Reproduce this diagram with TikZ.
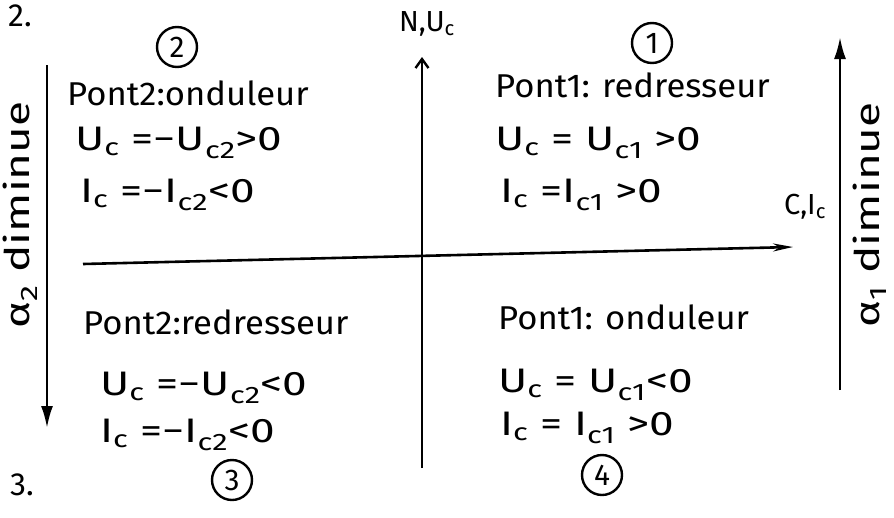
\documentclass[tikz,border=0pt]{standalone}
\usepackage{fontspec}
\usepackage{graphicx}
\setmainfont{Fira Sans}
\usetikzlibrary{arrows.meta}
\newcommand{\sbs}[1]{\textsubscript{#1}}
\newcommand{\widen}[2]{\scalebox{#1}[1]{#2}}
\begin{document}
\begin{tikzpicture}[x=1pt,y=-1pt,
  ttl/.style={font=\fontsize{33}{36}\selectfont, inner sep=0pt, anchor=west},
  eq/.style={font=\fontsize{34}{38}\selectfont, inner sep=0pt, anchor=west},
  num/.style={circle, draw, line width=2.4pt, inner sep=0pt, minimum size=40pt, font=\fontsize{30}{32}\selectfont},
  lbl/.style={font=\fontsize{29}{32}\selectfont, inner sep=0pt},
  side/.style={font=\fontsize{34}{38}\selectfont, inner sep=0pt, rotate=90},
  axis/.style={line width=2.6pt},
 ]
\useasboundingbox (0,0) rectangle (894,517);
% section numbers
\node[lbl, font=\fontsize{32}{34}\selectfont] (s2) at (20,16) {2.};
\node[lbl, font=\fontsize{32}{34}\selectfont] (s3) at (22,485) {3.};
% axes
\coordinate (vb) at (422,468);
\coordinate (vt) at (422,57);
\draw[axis,-{Straight Barb[length=9pt,width=13pt,line width=2.4pt]}] (vb) -- (vt);
\node[lbl] (ylab) at (427,24) {N,U\sbs{c}};
\coordinate (hl) at (83,264);
\coordinate (hr) at (793,247);
\draw[axis,-{Stealth[length=20pt,width=8pt]}] (hl) -- (hr);
\node[lbl] (xlab) at (805,207) {C,I\sbs{c}};
% side arrows
\coordinate (rb) at (840,390);
\coordinate (rt) at (840,37);
\draw[axis,-{Latex[length=22pt,width=12pt]}] (rb) -- (rt);
\node[side] (a1) at (870,215) {\widen{1.35}{α\sbs{1} diminue}};
\coordinate (lt) at (47,65);
\coordinate (lb) at (47,428);
\draw[axis,-{Latex[length=22pt,width=12pt]}] (lt) -- (lb);
\node[side] (a2) at (20,215) {\widen{1.35}{α\sbs{2} diminue}};
% quadrant 2
\node[num] (n2) at (177,47) {2};
\node[ttl] (q2t) at (67,93) {\widen{1.05}{Pont2:onduleur}};
\node[eq] (q2u) at (75,143) {\widen{1.3}{U\sbs{c} =−U\sbs{c2}>0}};
\node[eq] (q2i) at (80,195) {\widen{1.3}{I\sbs{c} =−I\sbs{c2}<0}};
% quadrant 1
\node[num] (n1) at (652,43) {1};
\node[ttl] (q1t) at (495,85) {\widen{1.05}{Pont1: redresseur}};
\node[eq] (q1u) at (495,143) {\widen{1.3}{U\sbs{c} = U\sbs{c1} >0}};
\node[eq] (q1i) at (500,195) {\widen{1.3}{I\sbs{c} =I\sbs{c1} >0}};
% quadrant 3
\node[ttl] (q3t) at (83,322) {\widen{1.05}{Pont2:redresseur}};
\node[eq] (q3u) at (100,388) {\widen{1.3}{U\sbs{c} =−U\sbs{c2}<0}};
\node[eq] (q3i) at (100,435) {\widen{1.3}{I\sbs{c} =−I\sbs{c2}<0}};
\node[num] (n3) at (232,480) {3};
% quadrant 4
\node[ttl] (q4t) at (498,317) {\widen{1.05}{Pont1: onduleur}};
\node[eq] (q4u) at (498,385) {\widen{1.3}{U\sbs{c} = U\sbs{c1}<0}};
\node[eq] (q4i) at (500,428) {\widen{1.3}{I\sbs{c} = I\sbs{c1} >0}};
\node[num] (n4) at (602,475) {4};
\end{tikzpicture}
\end{document}
